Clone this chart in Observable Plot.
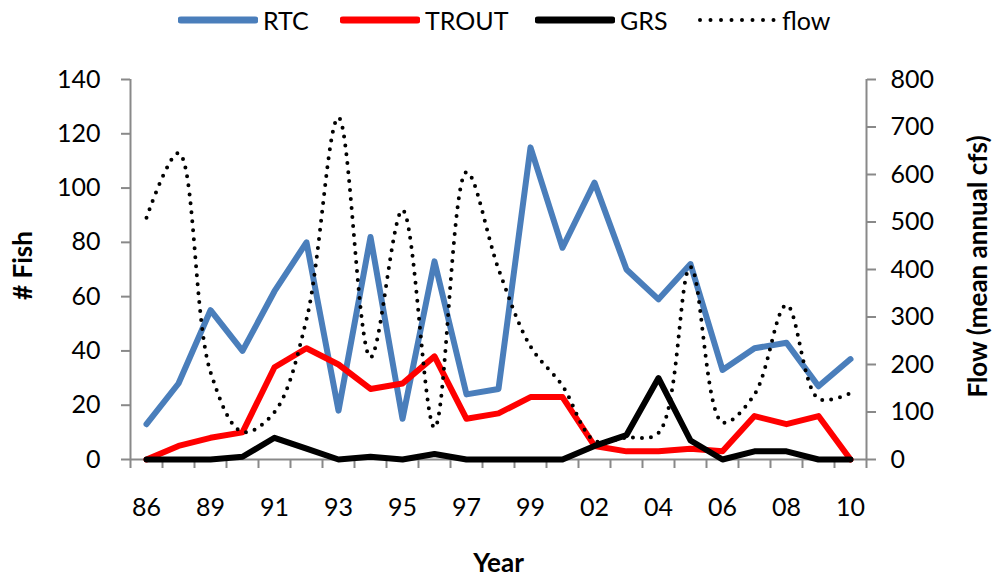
<!DOCTYPE html>
<html>
<head>
<meta charset="utf-8">
<script src="https://cdn.jsdelivr.net/npm/d3@7"></script>
<script src="https://cdn.jsdelivr.net/npm/@observablehq/plot@0.6"></script>
<style>
  body { margin: 0; background: #fff; font-family: Lato, "Open Sans", sans-serif; }
  #wrap { position: relative; width: 995px; height: 577px; overflow: hidden; }
  #legend { position: absolute; left: 0; top: 0; width: 995px; height: 40px; }
  .item { position: absolute; top: 0; height: 40px; display: flex; align-items: center; font-size: 25px; color: #000; white-space: nowrap; }
  .item svg { margin-right: 5px; }
  #chart { position: absolute; left: 0; top: 40px; }
</style>
</head>
<body>
<div id="wrap"><div id="legend"></div><div id="chart"></div></div>
<script>
// Year categories (two are unlabeled on the axis)
const years = ["86","88","89","90","91","92","93","94","95","96","97","98","99","01","02","03","04","05","06","07","08","09","10"];
// # Fish (left axis)
const rtc   = [13, 28, 55, 40, 62, 80, 18, 82, 15, 73, 24, 26, 115, 78, 102, 70, 59, 72, 33, 41, 43, 27, 37];
const trout = [0, 5, 8, 10, 34, 41, 35, 26, 28, 38, 15, 17, 23, 23, 5, 3, 3, 4, 3, 16, 13, 16, 0];
const grs   = [0, 0, 0, 1, 8, 4, 0, 1, 0, 2, 0, 0, 0, 0, 5, 9, 30, 7, 0, 3, 3, 0, 0];
// Flow, mean annual cfs (right axis)
const flow  = [509, 645, 184, 58, 100, 295, 720, 215, 525, 67, 605, 401, 238, 155, 40, 46, 56, 405, 78, 137, 325, 128, 140];

const seriesNames = ["RTC", "TROUT", "GRS", "flow"];
const seriesColors = ["#4a7ebb", "#ff0000", "#000000", "#000000"];
const fishTicks = [0, 20, 40, 60, 80, 100, 120, 140];
const flowTicks = [0, 100, 200, 300, 400, 500, 600, 700, 800];
const labelIdx = [0, 2, 4, 6, 8, 10, 12, 14, 16, 18, 20, 22];

const K = 140 / 800; // flow -> fish scale
const grey = "#898989";
const n = years.length;

const lineOpts = (color) => ({x: (d, i) => i, y: d => d, stroke: color, strokeWidth: 6, strokeLinejoin: "round", strokeLinecap: "round"});

const chart = Plot.plot({
  width: 995,
  height: 537,
  marginTop: 39,
  marginBottom: 118,
  marginLeft: 130,
  marginRight: 129,
  x: {type: "linear", domain: [-0.5, n - 0.5], axis: null},
  y: {domain: [0, 140], axis: null},
  style: {fontFamily: "Lato, 'Open Sans', sans-serif", fontSize: "25px", color: "black", background: "white", overflow: "visible"},
  marks: [
    Plot.ruleY([0], {stroke: grey, strokeWidth: 2}),
    Plot.ruleX([-0.5], {y1: 0, y2: 140, stroke: grey, strokeWidth: 2}),
    Plot.ruleX([n - 0.5], {y1: 0, y2: 140, stroke: grey, strokeWidth: 2}),
    Plot.axisX(d3.range(-0.5, n, 1), {tickSize: 9, tickFormat: () => "", stroke: grey, strokeWidth: 2, label: null}),
    Plot.axisX(labelIdx, {tickSize: 0, tickPadding: 39, tickFormat: i => years[i], fill: "black", fontSize: 25, label: null}),
    Plot.axisY(fishTicks, {anchor: "left", tickSize: 9, tickPadding: 21, stroke: grey, strokeWidth: 2, fill: "black", fontSize: 25, label: null}),
    Plot.axisY(flowTicks.map(v => v * K), {anchor: "right", tickSize: 9, tickPadding: 15, tickFormat: d => String(Math.round(d / K)), stroke: grey, strokeWidth: 2, fill: "black", fontSize: 25, label: null}),
    Plot.lineY(rtc, lineOpts(seriesColors[0])),
    Plot.lineY(trout, lineOpts(seriesColors[1])),
    Plot.lineY(grs, lineOpts(seriesColors[2])),
    Plot.lineY(flow, {x: (d, i) => i, y: d => d * K, curve: "catmull-rom", stroke: seriesColors[3], strokeWidth: 4, strokeDasharray: "0 9", strokeLinecap: "round"}),
    Plot.text(["# Fish"], {frameAnchor: "left", textAnchor: "middle", rotate: -90, dx: -107, dy: -4, fontWeight: "bold", fontSize: 26, fill: "black"}),
    Plot.text(["Flow (mean annual cfs)"], {frameAnchor: "right", textAnchor: "middle", rotate: -90, dx: 112, dy: -3, fontWeight: "bold", fontSize: 26, fill: "black"}),
    Plot.text(["Year"], {frameAnchor: "bottom", textAnchor: "middle", dy: 112, fontWeight: "bold", fontSize: 26, fill: "black"})
  ]
});
document.getElementById("chart").appendChild(chart);

// Legend
const legendX = [178, 340, 535, 697];
const legend = document.getElementById("legend");
seriesNames.forEach((name, k) => {
  const div = document.createElement("div");
  div.className = "item";
  div.style.left = legendX[k] + "px";
  const dotted = name === "flow";
  div.innerHTML = `<svg width="80" height="12"><line x1="3" y1="6" x2="77" y2="6" stroke="${seriesColors[k]}" stroke-width="${dotted ? 4 : 7}" stroke-linecap="round" ${dotted ? 'stroke-dasharray="0 10.5"' : ''}/></svg><span>${name}</span>`;
  legend.appendChild(div);
});
</script>
</body>
</html>
